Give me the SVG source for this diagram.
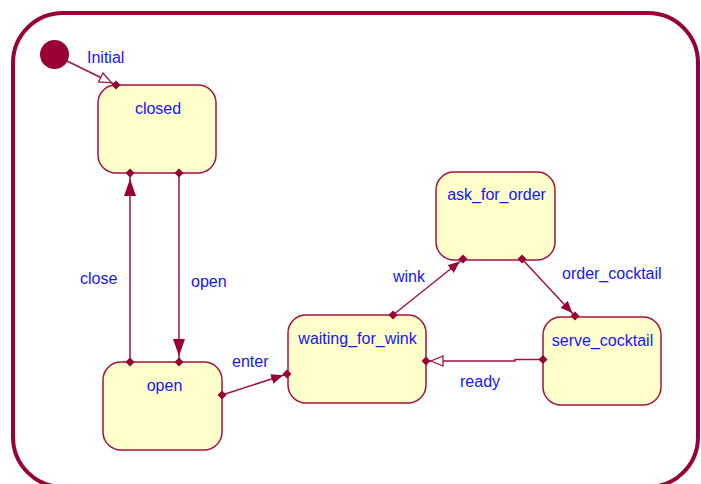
<svg xmlns="http://www.w3.org/2000/svg" width="701" height="484" viewBox="0 0 701 484">
  <style>
    .frame { fill: none; stroke: #990033; stroke-width: 4; }
    .state { fill: #FFFFCC; stroke: #A3133F; stroke-width: 1.5; }
    .label { font-family: "Liberation Sans", Arial, sans-serif; font-size: 16px; fill: #1414FF; }
    .edge { fill: none; stroke: #A3133F; stroke-width: 1.5; }
    .dot { fill: #990033; }
  </style>
  <defs>
    <!-- solid arrowheads, large and small -->
    <marker id="triBig" viewBox="0 0 17 12" markerUnits="userSpaceOnUse" markerWidth="17" markerHeight="12" refX="23" refY="6" orient="auto">
      <path d="M0,0 L17,6 L0,12 z" fill="#990033"/>
    </marker>
    <marker id="tri" viewBox="0 0 12 10" markerUnits="userSpaceOnUse" markerWidth="12" markerHeight="10" refX="16" refY="5" orient="auto">
      <path d="M0,0 L12,5 L0,10 z" fill="#990033"/>
    </marker>
    <!-- hollow arrowhead -->
    <marker id="hollow" viewBox="-1 -1 14 12" markerUnits="userSpaceOnUse" markerWidth="14" markerHeight="12" refX="17" refY="5" orient="auto">
      <path d="M0,0 L12,5 L0,10 z" fill="#FFFFFF" stroke="#A3133F" stroke-width="1.3"/>
    </marker>
    <!-- connection point diamond -->
    <path id="pin" d="M0,-4.5 L4.5,0 L0,4.5 L-4.5,0 z"/>
  </defs>

  <!-- enclosing state frame -->
  <rect class="frame" x="13" y="13" width="685" height="474" rx="50" ry="50"/>

  <g id="initial">
    <circle cx="54.5" cy="54.5" r="14.5" fill="#990033"/>
    <text class="label" x="87" y="63">Initial</text>
  </g>

  <g id="closed">
    <rect class="state" x="98" y="85" width="118" height="88" rx="18" ry="18"/>
    <text class="label" x="158" y="114" text-anchor="middle">closed</text>
  </g>

  <g id="open">
    <rect class="state" x="103" y="362" width="119" height="88" rx="18" ry="18"/>
    <text class="label" x="164.5" y="391" text-anchor="middle">open</text>
  </g>

  <g id="waiting_for_wink">
    <rect class="state" x="288" y="315" width="138" height="88" rx="18" ry="18"/>
    <text class="label" x="357.5" y="344" text-anchor="middle">waiting_for_wink</text>
  </g>

  <g id="ask_for_order">
    <rect class="state" x="436" y="172" width="119" height="88" rx="18" ry="18"/>
    <text class="label" x="496.5" y="200" text-anchor="middle">ask_for_order</text>
  </g>

  <g id="serve_cocktail">
    <rect class="state" x="543" y="317" width="118" height="88" rx="18" ry="18"/>
    <text class="label" x="602.5" y="346" text-anchor="middle">serve_cocktail</text>
  </g>

  <g id="connectors">
    <!-- Initial -> closed -->
    <line class="edge" x1="67" y1="61" x2="116" y2="85" marker-end="url(#hollow)"/>
    <use href="#pin" class="dot" x="116" y="85"/>

    <!-- open -> closed : close -->
    <line class="edge" x1="130" y1="362" x2="130" y2="173" marker-end="url(#triBig)"/>
    <use href="#pin" class="dot" x="130" y="173"/>
    <use href="#pin" class="dot" x="130" y="362"/>
    <text class="label" x="80" y="284">close</text>

    <!-- closed -> open : open -->
    <line class="edge" x1="179" y1="173" x2="179" y2="362" marker-end="url(#triBig)"/>
    <use href="#pin" class="dot" x="179" y="173"/>
    <use href="#pin" class="dot" x="179" y="362"/>
    <text class="label" x="191" y="287">open</text>

    <!-- open -> waiting_for_wink : enter -->
    <line class="edge" x1="222" y1="395" x2="287" y2="374" marker-end="url(#tri)"/>
    <use href="#pin" class="dot" x="222" y="395"/>
    <use href="#pin" class="dot" x="287" y="374"/>
    <text class="label" x="232" y="367">enter</text>

    <!-- waiting_for_wink -> ask_for_order : wink -->
    <line class="edge" x1="393" y1="315" x2="463" y2="259" marker-end="url(#tri)"/>
    <use href="#pin" class="dot" x="393" y="315"/>
    <use href="#pin" class="dot" x="463" y="259"/>
    <text class="label" x="393" y="282">wink</text>

    <!-- ask_for_order -> serve_cocktail : order_cocktail -->
    <line class="edge" x1="522" y1="259" x2="575" y2="316" marker-end="url(#tri)"/>
    <use href="#pin" class="dot" x="522" y="259"/>
    <use href="#pin" class="dot" x="575" y="316"/>
    <text class="label" x="562" y="279">order_cocktail</text>

    <!-- serve_cocktail -> waiting_for_wink : ready -->
    <polyline class="edge" points="543,359.5 515,359.5 515,361 426,361" marker-end="url(#hollow)"/>
    <use href="#pin" class="dot" x="543" y="359.5"/>
    <use href="#pin" class="dot" x="426" y="361"/>
    <text class="label" x="460" y="387">ready</text>
  </g>
</svg>
